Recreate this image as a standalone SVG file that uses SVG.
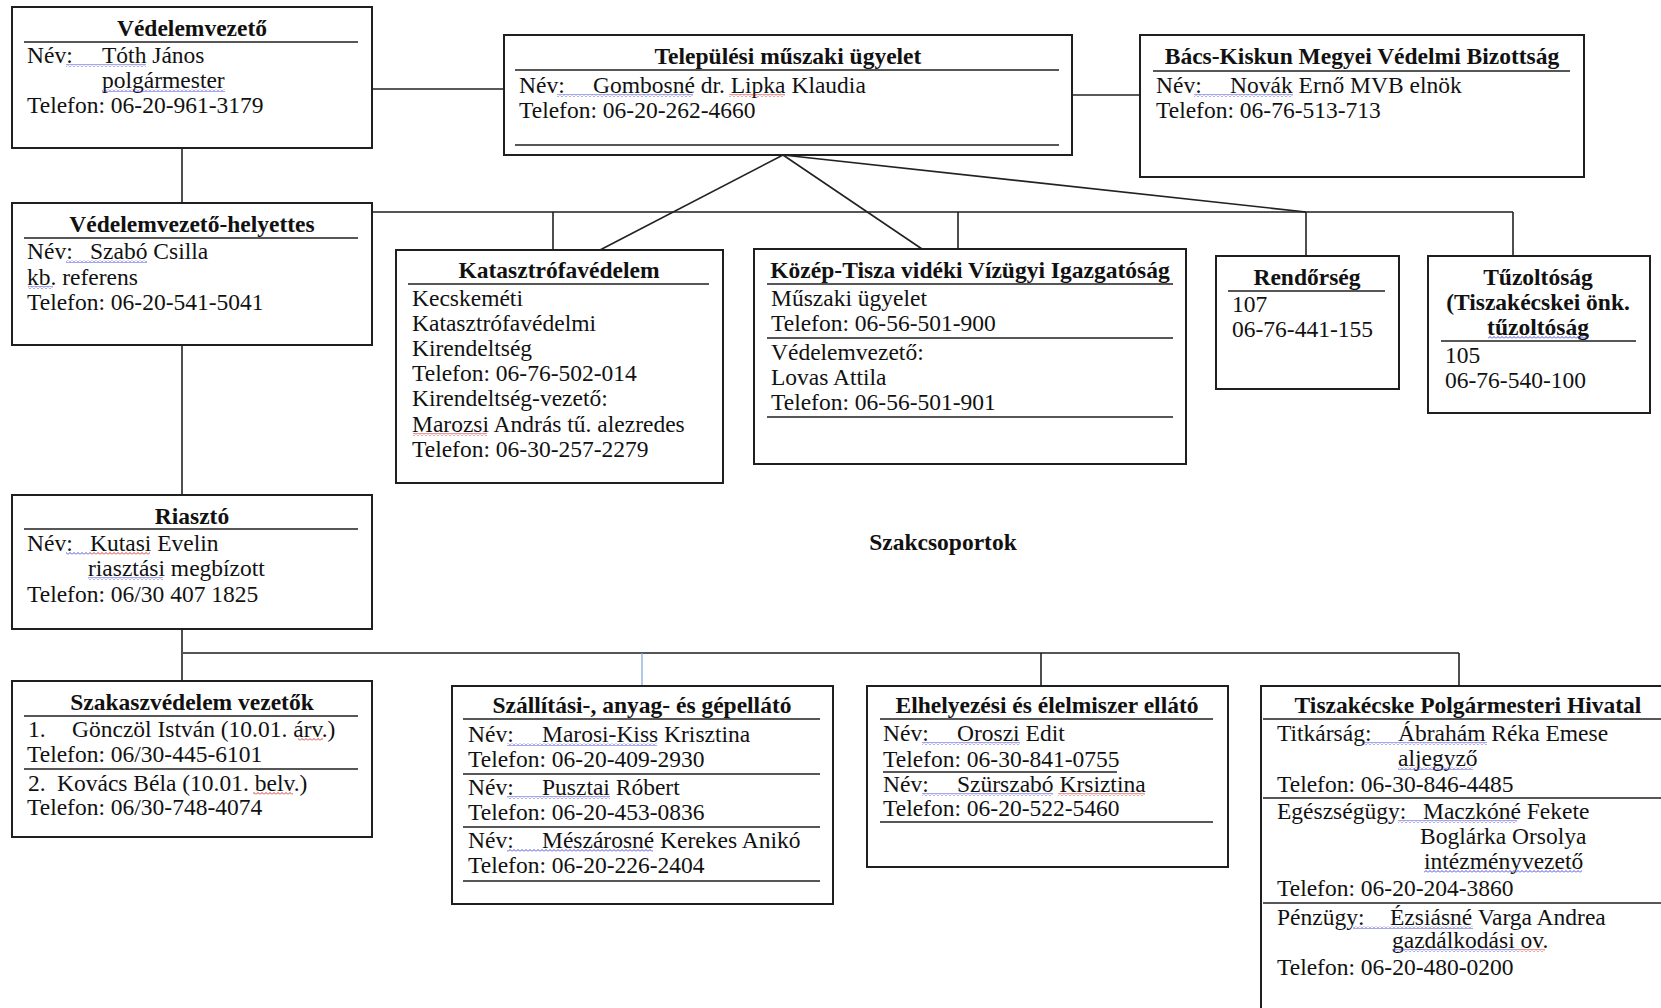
<svg xmlns="http://www.w3.org/2000/svg" width="1661" height="1008" viewBox="0 0 1661 1008">
<style>
.box{fill:#fff;stroke:#1f1f1f;stroke-width:2}
.rule{stroke:#1f1f1f;stroke-width:1.6}
.t{font-family:"Liberation Serif","Times New Roman",serif;font-size:23.5px;fill:#111}
.b{font-weight:bold;text-anchor:middle}
.c{stroke:#222;stroke-width:1.6;fill:none}
.cg{stroke:#555;stroke-width:2.2;fill:none}
.cb{stroke:#7aa6d6;stroke-width:1.2;fill:none}
.sb{fill:url(#wb)}
.sr{fill:url(#wr)}
</style>
<defs>
<pattern id="wb" patternUnits="userSpaceOnUse" width="4" height="3"><path d="M0 2.5 L2 0.5 L4 2.5" stroke="#3a3ad0" stroke-width="0.9" fill="none"/></pattern>
<pattern id="wr" patternUnits="userSpaceOnUse" width="4" height="3"><path d="M0 2.5 L2 0.5 L4 2.5" stroke="#d02020" stroke-width="0.9" fill="none"/></pattern>
</defs>
<rect width="1661" height="1008" fill="#fff"/>

<g id="connectors">
<line class="c" x1="372" y1="89" x2="504" y2="89"/>
<line class="c" x1="1072" y1="95" x2="1140" y2="95"/>
<line class="c" x1="182" y1="148" x2="182" y2="203"/>
<line class="cg" x1="372" y1="212" x2="1513" y2="212"/>
<line class="c" x1="553" y1="212" x2="553" y2="250"/>
<line class="c" x1="958" y1="212" x2="958" y2="249"/>
<line class="c" x1="1306" y1="212" x2="1306" y2="256"/>
<line class="c" x1="1513" y1="212" x2="1513" y2="256"/>
<line class="c" x1="783" y1="155" x2="600" y2="250"/>
<line class="c" x1="783" y1="155" x2="922" y2="249"/>
<line class="c" x1="783" y1="155" x2="1306" y2="212"/>
<line class="c" x1="182" y1="345" x2="182" y2="495"/>
<line class="c" x1="182" y1="629" x2="182" y2="681"/>
<line class="cg" x1="182" y1="653" x2="1459" y2="653"/>
<line class="cb" x1="642" y1="653" x2="642" y2="686"/>
<line class="c" x1="1041" y1="653" x2="1041" y2="686"/>
<line class="c" x1="1459" y1="653" x2="1459" y2="686"/>
</g>

<g id="vedelemvezeto">
<rect class="box" x="12" y="7" width="360" height="141"/>
<text class="t b" x="192" y="36">Védelemvezető</text>
<line class="rule" x1="24" y1="42" x2="358" y2="42"/>
<text class="t" x="27" y="63">Név:</text>
<text class="t" x="102" y="63">Tóth János</text>
<text class="t" x="102" y="88">polgármester</text>
<text class="t" x="27" y="113">Telefon: 06-20-961-3179</text>
<rect class="sb" x="66" y="64" width="80" height="3"/>
<rect class="sb" x="102" y="89" width="123" height="3"/>
</g>

<g id="telepulesi">
<rect class="box" x="504" y="35" width="568" height="120"/>
<text class="t b" x="788" y="64">Települési műszaki ügyelet</text>
<line class="rule" x1="515" y1="70" x2="1059" y2="70"/>
<text class="t" x="519" y="93">Név:</text>
<text class="t" x="593" y="93">Gombosné dr. Lipka Klaudia</text>
<text class="t" x="519" y="118">Telefon: 06-20-262-4660</text>
<line class="rule" x1="515" y1="145" x2="1059" y2="145"/>
<rect class="sb" x="557" y="94" width="136" height="3"/>
<rect class="sr" x="729" y="94" width="56" height="3"/>
</g>

<g id="bacs">
<rect class="box" x="1140" y="35" width="444" height="142"/>
<text class="t b" x="1362" y="64">Bács-Kiskun Megyei Védelmi Bizottság</text>
<line class="rule" x1="1153" y1="71" x2="1570" y2="71"/>
<text class="t" x="1156" y="93">Név:</text>
<text class="t" x="1230" y="93">Novák Ernő MVB elnök</text>
<text class="t" x="1156" y="118">Telefon: 06-76-513-713</text>
<rect class="sb" x="1194" y="94" width="99" height="3"/>
</g>

<g id="helyettes">
<rect class="box" x="12" y="203" width="360" height="142"/>
<text class="t b" x="192" y="232">Védelemvezető-helyettes</text>
<line class="rule" x1="24" y1="238" x2="358" y2="238"/>
<text class="t" x="27" y="259">Név:</text>
<text class="t" x="90" y="259">Szabó Csilla</text>
<text class="t" x="27" y="285">kb. referens</text>
<text class="t" x="27" y="310">Telefon: 06-20-541-5041</text>
<rect class="sb" x="66" y="260" width="81" height="3"/>
<rect class="sb" x="28" y="286" width="25" height="3"/>
</g>

<g id="katasztrofavedelem">
<rect class="box" x="396" y="250" width="327" height="233"/>
<text class="t b" x="559" y="278">Katasztrófavédelem</text>
<line class="rule" x1="408" y1="284" x2="709" y2="284"/>
<text class="t" x="412" y="306">Kecskeméti</text>
<text class="t" x="412" y="331">Katasztrófavédelmi</text>
<text class="t" x="412" y="356">Kirendeltség</text>
<text class="t" x="412" y="381">Telefon: 06-76-502-014</text>
<text class="t" x="412" y="406">Kirendeltség-vezető:</text>
<text class="t" x="412" y="432">Marozsi András tű. alezredes</text>
<text class="t" x="412" y="457">Telefon: 06-30-257-2279</text>
<rect class="sr" x="413" y="433" width="74" height="3"/>
</g>

<g id="kozep-tisza">
<rect class="box" x="754" y="249" width="432" height="215"/>
<text class="t b" x="970" y="278">Közép-Tisza vidéki Vízügyi Igazgatóság</text>
<line class="rule" x1="767" y1="284" x2="1173" y2="284"/>
<text class="t" x="771" y="306">Műszaki ügyelet</text>
<text class="t" x="771" y="331">Telefon: 06-56-501-900</text>
<line class="rule" x1="767" y1="338" x2="1173" y2="338"/>
<text class="t" x="771" y="360">Védelemvezető:</text>
<text class="t" x="771" y="385">Lovas Attila</text>
<text class="t" x="771" y="410">Telefon: 06-56-501-901</text>
<line class="rule" x1="767" y1="417" x2="1173" y2="417"/>
</g>

<g id="rendorseg">
<rect class="box" x="1216" y="256" width="183" height="133"/>
<text class="t b" x="1307" y="285">Rendőrség</text>
<line class="rule" x1="1228" y1="291" x2="1385" y2="291"/>
<text class="t" x="1232" y="312">107</text>
<text class="t" x="1232" y="337">06-76-441-155</text>
</g>

<g id="tuzoltosag">
<rect class="box" x="1428" y="256" width="222" height="157"/>
<text class="t b" x="1538" y="285">Tűzoltóság</text>
<text class="t b" x="1538" y="310">(Tiszakécskei önk.</text>
<text class="t b" x="1538" y="335">tűzoltóság</text>
<line class="rule" x1="1441" y1="341" x2="1636" y2="341"/>
<text class="t" x="1445" y="363">105</text>
<text class="t" x="1445" y="388">06-76-540-100</text>
<rect class="sb" x="1488" y="336" width="100" height="3"/>
</g>

<g id="riaszto">
<rect class="box" x="12" y="495" width="360" height="134"/>
<text class="t b" x="192" y="524">Riasztó</text>
<line class="rule" x1="24" y1="529" x2="358" y2="529"/>
<text class="t" x="27" y="551">Név:</text>
<text class="t" x="90" y="551">Kutasi Evelin</text>
<text class="t" x="88" y="576">riasztási megbízott</text>
<text class="t" x="27" y="602">Telefon: 06/30 407 1825</text>
<rect class="sb" x="66" y="552" width="24" height="3"/>
<rect class="sr" x="90" y="552" width="60" height="3"/>
<rect class="sb" x="88" y="577" width="75" height="3"/>
</g>

<g id="szakaszvedelem">
<rect class="box" x="12" y="681" width="360" height="156"/>
<text class="t b" x="192" y="710">Szakaszvédelem vezetők</text>
<line class="rule" x1="24" y1="716" x2="358" y2="716"/>
<text class="t" x="28" y="737">1.</text>
<text class="t" x="72" y="737">Gönczöl István (10.01. árv.)</text>
<text class="t" x="27" y="762">Telefon: 06/30-445-6101</text>
<line class="rule" x1="24" y1="769" x2="358" y2="769"/>
<text class="t" x="28" y="791">2.</text>
<text class="t" x="57" y="791">Kovács Béla (10.01. belv.)</text>
<text class="t" x="27" y="815">Telefon: 06/30-748-4074</text>
<rect class="sr" x="298" y="738" width="25" height="3"/>
<rect class="sr" x="253" y="792" width="40" height="3"/>
</g>

<g id="szakcsoportok">
<text class="t b" x="943" y="550">Szakcsoportok</text>
</g>

<g id="szallitasi">
<rect class="box" x="452" y="686" width="381" height="218"/>
<text class="t b" x="642" y="713">Szállítási-, anyag- és gépellátó</text>
<line class="rule" x1="463" y1="719" x2="820" y2="719"/>
<text class="t" x="468" y="742">Név:</text>
<text class="t" x="542" y="742">Marosi-Kiss Krisztina</text>
<text class="t" x="468" y="767">Telefon: 06-20-409-2930</text>
<line class="rule" x1="463" y1="774" x2="820" y2="774"/>
<text class="t" x="468" y="795">Név:</text>
<text class="t" x="542" y="795">Pusztai Róbert</text>
<text class="t" x="468" y="820">Telefon: 06-20-453-0836</text>
<line class="rule" x1="463" y1="827" x2="820" y2="827"/>
<text class="t" x="468" y="848">Név:</text>
<text class="t" x="542" y="848">Mészárosné Kerekes Anikó</text>
<text class="t" x="468" y="873">Telefon: 06-20-226-2404</text>
<line class="rule" x1="463" y1="881" x2="820" y2="881"/>
<rect class="sb" x="507" y="743" width="150" height="3"/>
<rect class="sb" x="507" y="796" width="103" height="3"/>
<rect class="sb" x="507" y="849" width="146" height="3"/>
</g>

<g id="elhelyezesi">
<rect class="box" x="867" y="686" width="361" height="181"/>
<text class="t b" x="1047" y="713">Elhelyezési és élelmiszer ellátó</text>
<line class="rule" x1="880" y1="719" x2="1213" y2="719"/>
<text class="t" x="883" y="741">Név:</text>
<text class="t" x="957" y="741">Oroszi Edit</text>
<text class="t" x="883" y="767">Telefon: 06-30-841-0755</text>
<line class="rule" x1="883" y1="772" x2="1117" y2="772"/>
<text class="t" x="883" y="792">Név:</text>
<text class="t" x="957" y="792">Szürszabó Krsiztina</text>
<text class="t" x="883" y="816">Telefon: 06-20-522-5460</text>
<line class="rule" x1="880" y1="822" x2="1213" y2="822"/>
<rect class="sb" x="922" y="742" width="98" height="3"/>
<rect class="sb" x="922" y="793" width="131" height="3"/>
<rect class="sr" x="1058" y="793" width="87" height="3"/>
</g>

<g id="tiszakecske">
<rect class="box" x="1261" y="686" width="450" height="400"/>
<text class="t b" x="1468" y="713">Tiszakécske Polgármesteri Hivatal</text>
<line class="rule" x1="1263" y1="719" x2="1670" y2="719"/>
<text class="t" x="1277" y="741">Titkárság:</text>
<text class="t" x="1398" y="741">Ábrahám Réka Emese</text>
<text class="t" x="1398" y="766">aljegyző</text>
<text class="t" x="1277" y="792">Telefon: 06-30-846-4485</text>
<line class="rule" x1="1263" y1="798" x2="1670" y2="798"/>
<text class="t" x="1277" y="819">Egészségügy:</text>
<text class="t" x="1423" y="819">Maczkóné Fekete</text>
<text class="t" x="1420" y="844">Boglárka Orsolya</text>
<text class="t" x="1424" y="869">intézményvezető</text>
<text class="t" x="1277" y="896">Telefon: 06-20-204-3860</text>
<line class="rule" x1="1263" y1="903" x2="1670" y2="903"/>
<text class="t" x="1277" y="925">Pénzügy:</text>
<text class="t" x="1390" y="925">Ézsiásné Varga Andrea</text>
<text class="t" x="1392" y="948">gazdálkodási ov.</text>
<text class="t" x="1277" y="975">Telefon: 06-20-480-0200</text>
<rect class="sb" x="1362" y="742" width="125" height="3"/>
<rect class="sb" x="1398" y="767" width="75" height="3"/>
<rect class="sb" x="1398" y="820" width="119" height="3"/>
<rect class="sb" x="1424" y="870" width="158" height="3"/>
<rect class="sb" x="1353" y="926" width="120" height="3"/>
<rect class="sb" x="1392" y="949" width="125" height="3"/>
<rect class="sr" x="1517" y="949" width="28" height="3"/>
</g>
</svg>
